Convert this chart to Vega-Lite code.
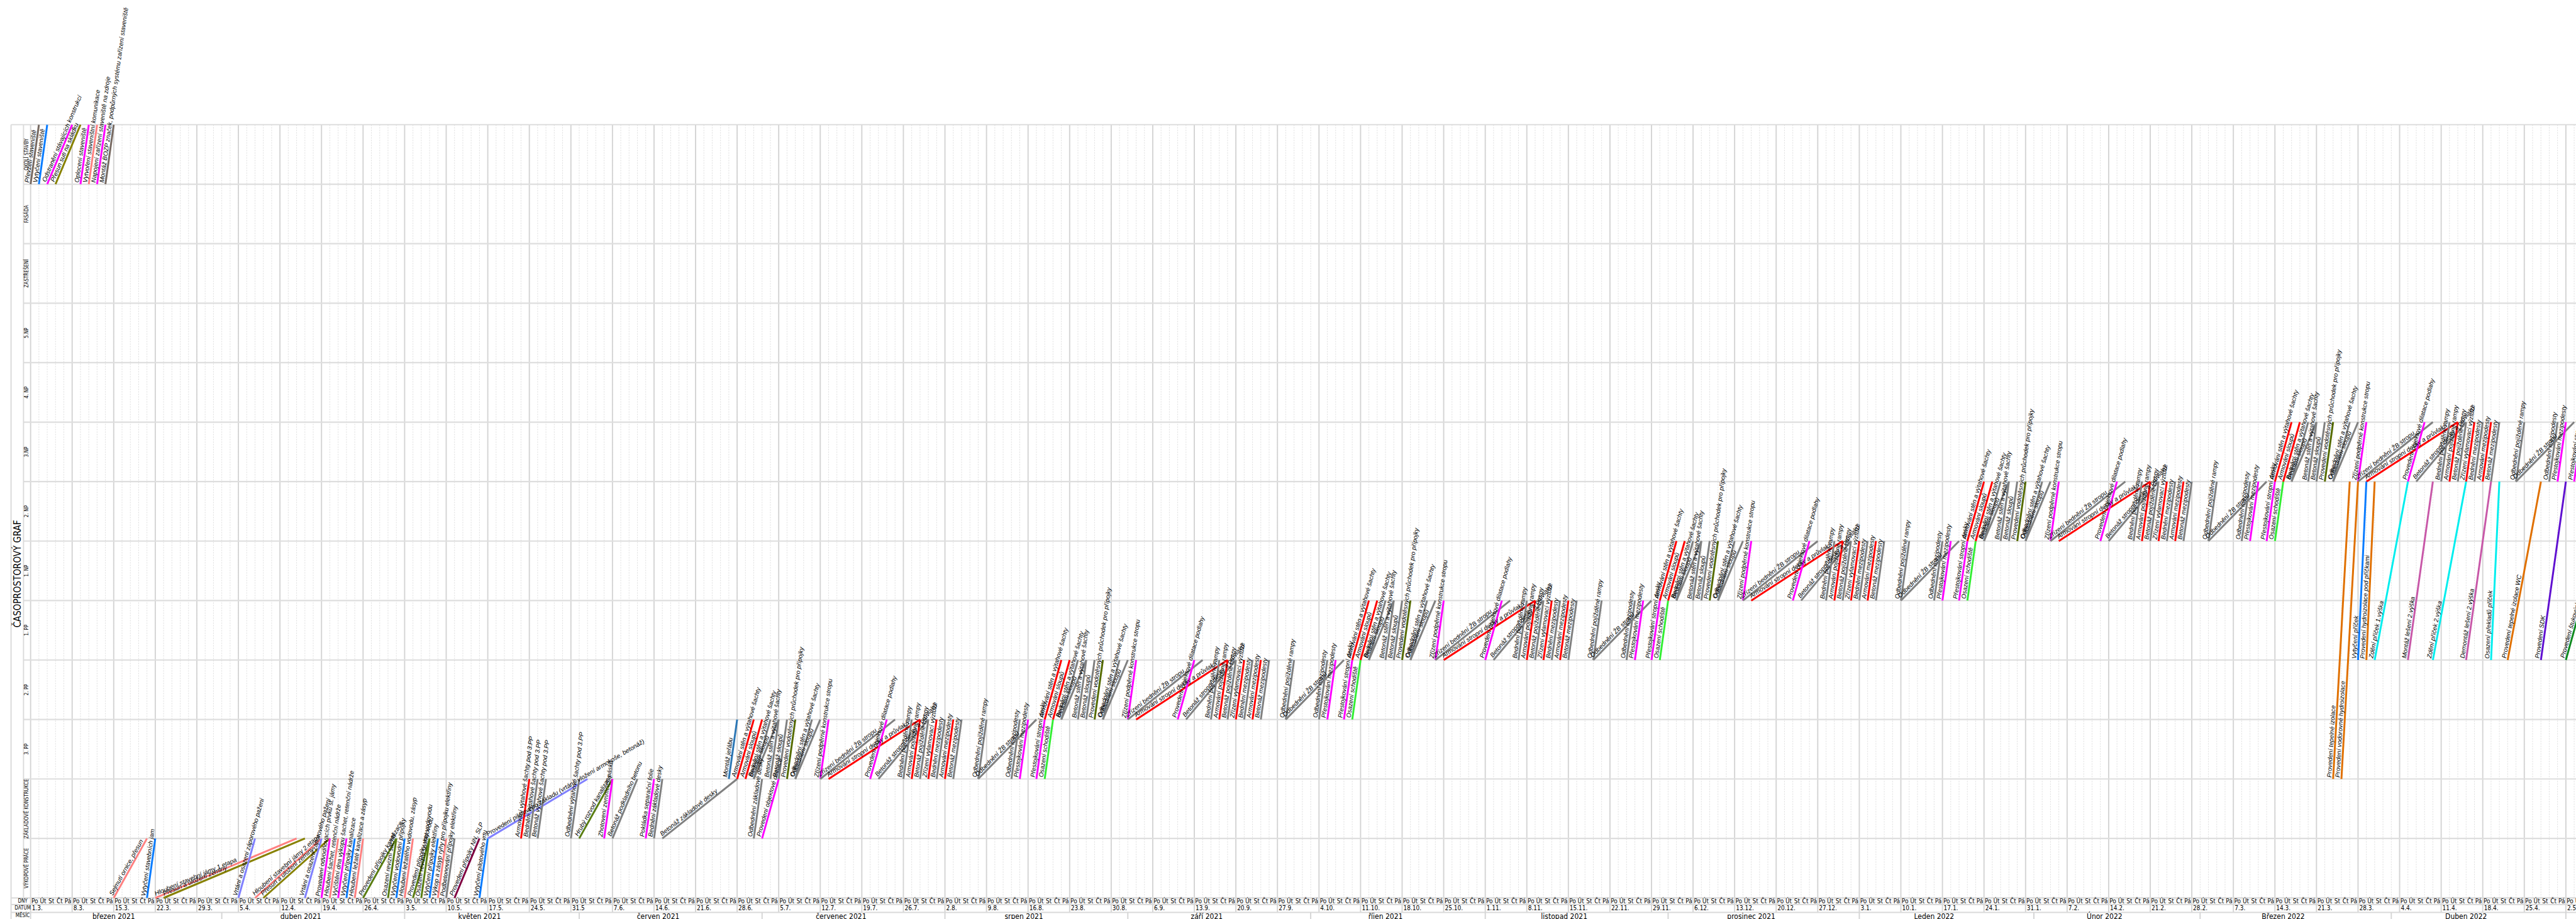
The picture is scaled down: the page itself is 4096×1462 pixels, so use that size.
{
"$schema":"https://vega.github.io/schema/vega-lite/v6.json",
"width":4096,"height":1462,"autosize":{"type":"none"},"padding":0,"background":"white",
"config":{"view":{"stroke":null}},
"datasets":{
"days":[{"d":0,"w":"Po"},{"d":1,"w":"Út"},{"d":2,"w":"St"},{"d":3,"w":"Čt"},{"d":4,"w":"Pá"},{"d":5,"w":"Po"},{"d":6,"w":"Út"},{"d":7,"w":"St"},{"d":8,"w":"Čt"},{"d":9,"w":"Pá"},{"d":10,"w":"Po"},{"d":11,"w":"Út"},{"d":12,"w":"St"},{"d":13,"w":"Čt"},{"d":14,"w":"Pá"},{"d":15,"w":"Po"},{"d":16,"w":"Út"},{"d":17,"w":"St"},{"d":18,"w":"Čt"},{"d":19,"w":"Pá"},{"d":20,"w":"Po"},{"d":21,"w":"Út"},{"d":22,"w":"St"},{"d":23,"w":"Čt"},{"d":24,"w":"Pá"},{"d":25,"w":"Po"},{"d":26,"w":"Út"},{"d":27,"w":"St"},{"d":28,"w":"Čt"},{"d":29,"w":"Pá"},{"d":30,"w":"Po"},{"d":31,"w":"Út"},{"d":32,"w":"St"},{"d":33,"w":"Čt"},{"d":34,"w":"Pá"},{"d":35,"w":"Po"},{"d":36,"w":"Út"},{"d":37,"w":"St"},{"d":38,"w":"Čt"},{"d":39,"w":"Pá"},{"d":40,"w":"Po"},{"d":41,"w":"Út"},{"d":42,"w":"St"},{"d":43,"w":"Čt"},{"d":44,"w":"Pá"},{"d":45,"w":"Po"},{"d":46,"w":"Út"},{"d":47,"w":"St"},{"d":48,"w":"Čt"},{"d":49,"w":"Pá"},{"d":50,"w":"Po"},{"d":51,"w":"Út"},{"d":52,"w":"St"},{"d":53,"w":"Čt"},{"d":54,"w":"Pá"},{"d":55,"w":"Po"},{"d":56,"w":"Út"},{"d":57,"w":"St"},{"d":58,"w":"Čt"},{"d":59,"w":"Pá"},{"d":60,"w":"Po"},{"d":61,"w":"Út"},{"d":62,"w":"St"},{"d":63,"w":"Čt"},{"d":64,"w":"Pá"},{"d":65,"w":"Po"},{"d":66,"w":"Út"},{"d":67,"w":"St"},{"d":68,"w":"Čt"},{"d":69,"w":"Pá"},{"d":70,"w":"Po"},{"d":71,"w":"Út"},{"d":72,"w":"St"},{"d":73,"w":"Čt"},{"d":74,"w":"Pá"},{"d":75,"w":"Po"},{"d":76,"w":"Út"},{"d":77,"w":"St"},{"d":78,"w":"Čt"},{"d":79,"w":"Pá"},{"d":80,"w":"Po"},{"d":81,"w":"Út"},{"d":82,"w":"St"},{"d":83,"w":"Čt"},{"d":84,"w":"Pá"},{"d":85,"w":"Po"},{"d":86,"w":"Út"},{"d":87,"w":"St"},{"d":88,"w":"Čt"},{"d":89,"w":"Pá"},{"d":90,"w":"Po"},{"d":91,"w":"Út"},{"d":92,"w":"St"},{"d":93,"w":"Čt"},{"d":94,"w":"Pá"},{"d":95,"w":"Po"},{"d":96,"w":"Út"},{"d":97,"w":"St"},{"d":98,"w":"Čt"},{"d":99,"w":"Pá"},{"d":100,"w":"Po"},{"d":101,"w":"Út"},{"d":102,"w":"St"},{"d":103,"w":"Čt"},{"d":104,"w":"Pá"},{"d":105,"w":"Po"},{"d":106,"w":"Út"},{"d":107,"w":"St"},{"d":108,"w":"Čt"},{"d":109,"w":"Pá"},{"d":110,"w":"Po"},{"d":111,"w":"Út"},{"d":112,"w":"St"},{"d":113,"w":"Čt"},{"d":114,"w":"Pá"},{"d":115,"w":"Po"},{"d":116,"w":"Út"},{"d":117,"w":"St"},{"d":118,"w":"Čt"},{"d":119,"w":"Pá"},{"d":120,"w":"Po"},{"d":121,"w":"Út"},{"d":122,"w":"St"},{"d":123,"w":"Čt"},{"d":124,"w":"Pá"},{"d":125,"w":"Po"},{"d":126,"w":"Út"},{"d":127,"w":"St"},{"d":128,"w":"Čt"},{"d":129,"w":"Pá"},{"d":130,"w":"Po"},{"d":131,"w":"Út"},{"d":132,"w":"St"},{"d":133,"w":"Čt"},{"d":134,"w":"Pá"},{"d":135,"w":"Po"},{"d":136,"w":"Út"},{"d":137,"w":"St"},{"d":138,"w":"Čt"},{"d":139,"w":"Pá"},{"d":140,"w":"Po"},{"d":141,"w":"Út"},{"d":142,"w":"St"},{"d":143,"w":"Čt"},{"d":144,"w":"Pá"},{"d":145,"w":"Po"},{"d":146,"w":"Út"},{"d":147,"w":"St"},{"d":148,"w":"Čt"},{"d":149,"w":"Pá"},{"d":150,"w":"Po"},{"d":151,"w":"Út"},{"d":152,"w":"St"},{"d":153,"w":"Čt"},{"d":154,"w":"Pá"},{"d":155,"w":"Po"},{"d":156,"w":"Út"},{"d":157,"w":"St"},{"d":158,"w":"Čt"},{"d":159,"w":"Pá"},{"d":160,"w":"Po"},{"d":161,"w":"Út"},{"d":162,"w":"St"},{"d":163,"w":"Čt"},{"d":164,"w":"Pá"},{"d":165,"w":"Po"},{"d":166,"w":"Út"},{"d":167,"w":"St"},{"d":168,"w":"Čt"},{"d":169,"w":"Pá"},{"d":170,"w":"Po"},{"d":171,"w":"Út"},{"d":172,"w":"St"},{"d":173,"w":"Čt"},{"d":174,"w":"Pá"},{"d":175,"w":"Po"},{"d":176,"w":"Út"},{"d":177,"w":"St"},{"d":178,"w":"Čt"},{"d":179,"w":"Pá"},{"d":180,"w":"Po"},{"d":181,"w":"Út"},{"d":182,"w":"St"},{"d":183,"w":"Čt"},{"d":184,"w":"Pá"},{"d":185,"w":"Po"},{"d":186,"w":"Út"},{"d":187,"w":"St"},{"d":188,"w":"Čt"},{"d":189,"w":"Pá"},{"d":190,"w":"Po"},{"d":191,"w":"Út"},{"d":192,"w":"St"},{"d":193,"w":"Čt"},{"d":194,"w":"Pá"},{"d":195,"w":"Po"},{"d":196,"w":"Út"},{"d":197,"w":"St"},{"d":198,"w":"Čt"},{"d":199,"w":"Pá"},{"d":200,"w":"Po"},{"d":201,"w":"Út"},{"d":202,"w":"St"},{"d":203,"w":"Čt"},{"d":204,"w":"Pá"},{"d":205,"w":"Po"},{"d":206,"w":"Út"},{"d":207,"w":"St"},{"d":208,"w":"Čt"},{"d":209,"w":"Pá"},{"d":210,"w":"Po"},{"d":211,"w":"Út"},{"d":212,"w":"St"},{"d":213,"w":"Čt"},{"d":214,"w":"Pá"},{"d":215,"w":"Po"},{"d":216,"w":"Út"},{"d":217,"w":"St"},{"d":218,"w":"Čt"},{"d":219,"w":"Pá"},{"d":220,"w":"Po"},{"d":221,"w":"Út"},{"d":222,"w":"St"},{"d":223,"w":"Čt"},{"d":224,"w":"Pá"},{"d":225,"w":"Po"},{"d":226,"w":"Út"},{"d":227,"w":"St"},{"d":228,"w":"Čt"},{"d":229,"w":"Pá"},{"d":230,"w":"Po"},{"d":231,"w":"Út"},{"d":232,"w":"St"},{"d":233,"w":"Čt"},{"d":234,"w":"Pá"},{"d":235,"w":"Po"},{"d":236,"w":"Út"},{"d":237,"w":"St"},{"d":238,"w":"Čt"},{"d":239,"w":"Pá"},{"d":240,"w":"Po"},{"d":241,"w":"Út"},{"d":242,"w":"St"},{"d":243,"w":"Čt"},{"d":244,"w":"Pá"},{"d":245,"w":"Po"},{"d":246,"w":"Út"},{"d":247,"w":"St"},{"d":248,"w":"Čt"},{"d":249,"w":"Pá"},{"d":250,"w":"Po"},{"d":251,"w":"Út"},{"d":252,"w":"St"},{"d":253,"w":"Čt"},{"d":254,"w":"Pá"},{"d":255,"w":"Po"},{"d":256,"w":"Út"},{"d":257,"w":"St"},{"d":258,"w":"Čt"},{"d":259,"w":"Pá"},{"d":260,"w":"Po"},{"d":261,"w":"Út"},{"d":262,"w":"St"},{"d":263,"w":"Čt"},{"d":264,"w":"Pá"},{"d":265,"w":"Po"},{"d":266,"w":"Út"},{"d":267,"w":"St"},{"d":268,"w":"Čt"},{"d":269,"w":"Pá"},{"d":270,"w":"Po"},{"d":271,"w":"Út"},{"d":272,"w":"St"},{"d":273,"w":"Čt"},{"d":274,"w":"Pá"},{"d":275,"w":"Po"},{"d":276,"w":"Út"},{"d":277,"w":"St"},{"d":278,"w":"Čt"},{"d":279,"w":"Pá"},{"d":280,"w":"Po"},{"d":281,"w":"Út"},{"d":282,"w":"St"},{"d":283,"w":"Čt"},{"d":284,"w":"Pá"},{"d":285,"w":"Po"},{"d":286,"w":"Út"},{"d":287,"w":"St"},{"d":288,"w":"Čt"},{"d":289,"w":"Pá"},{"d":290,"w":"Po"},{"d":291,"w":"Út"},{"d":292,"w":"St"},{"d":293,"w":"Čt"},{"d":294,"w":"Pá"},{"d":295,"w":"Po"},{"d":296,"w":"Út"},{"d":297,"w":"St"},{"d":298,"w":"Čt"},{"d":299,"w":"Pá"},{"d":300,"w":"Po"},{"d":301,"w":"Út"},{"d":302,"w":"St"},{"d":303,"w":"Čt"},{"d":304,"w":"Pá"},{"d":305,"w":"Po"},{"d":306,"w":"Út"}],
"weeks":[{"d":0,"t":"1.3."},{"d":5,"t":"8.3."},{"d":10,"t":"15.3."},{"d":15,"t":"22.3."},{"d":20,"t":"29.3."},{"d":25,"t":"5.4."},{"d":30,"t":"12.4."},{"d":35,"t":"19.4."},{"d":40,"t":"26.4."},{"d":45,"t":"3.5."},{"d":50,"t":"10.5."},{"d":55,"t":"17.5."},{"d":60,"t":"24.5."},{"d":65,"t":"31.5"},{"d":70,"t":"7.6."},{"d":75,"t":"14.6."},{"d":80,"t":"21.6."},{"d":85,"t":"28.6."},{"d":90,"t":"5.7."},{"d":95,"t":"12.7."},{"d":100,"t":"19.7."},{"d":105,"t":"26.7."},{"d":110,"t":"2.8."},{"d":115,"t":"9.8."},{"d":120,"t":"16.8."},{"d":125,"t":"23.8."},{"d":130,"t":"30.8."},{"d":135,"t":"6.9."},{"d":140,"t":"13.9."},{"d":145,"t":"20.9."},{"d":150,"t":"27.9."},{"d":155,"t":"4.10."},{"d":160,"t":"11.10."},{"d":165,"t":"18.10."},{"d":170,"t":"25.10."},{"d":175,"t":"1.11."},{"d":180,"t":"8.11."},{"d":185,"t":"15.11."},{"d":190,"t":"22.11."},{"d":195,"t":"29.11."},{"d":200,"t":"6.12."},{"d":205,"t":"13.12."},{"d":210,"t":"20.12."},{"d":215,"t":"27.12."},{"d":220,"t":"3.1."},{"d":225,"t":"10.1."},{"d":230,"t":"17.1."},{"d":235,"t":"24.1."},{"d":240,"t":"31.1."},{"d":245,"t":"7.2."},{"d":250,"t":"14.2."},{"d":255,"t":"21.2."},{"d":260,"t":"28.2."},{"d":265,"t":"7.3."},{"d":270,"t":"14.3."},{"d":275,"t":"21.3."},{"d":280,"t":"28.3."},{"d":285,"t":"4.4."},{"d":290,"t":"11.4."},{"d":295,"t":"18.4."},{"d":300,"t":"25.4."},{"d":305,"t":"2.5."}],
"months":[{"a":0,"b":23,"t":"březen 2021"},{"a":23,"b":45,"t":"duben 2021"},{"a":45,"b":66,"t":"květen 2021"},{"a":66,"b":88,"t":"červen 2021"},{"a":88,"b":110,"t":"červenec 2021"},{"a":110,"b":132,"t":"srpen 2021"},{"a":132,"b":154,"t":"září 2021"},{"a":154,"b":175,"t":"říjen 2021"},{"a":175,"b":197,"t":"listopad 2021"},{"a":197,"b":220,"t":"prosinec 2021"},{"a":220,"b":241,"t":"Leden 2022"},{"a":241,"b":261,"t":"Únor 2022"},{"a":261,"b":284,"t":"Březen 2022"},{"a":284,"b":305,"t":"Duben 2022"},{"a":305,"b":326,"t":"Květen 2022"}],
"rows":[{"y":0,"t":"VÝKOPOVÉ PRÁCE"},{"y":1,"t":"ZÁKLADOVÉ KONSTRUKCE"},{"y":2,"t":"3. PP"},{"y":3,"t":"2. PP"},{"y":4,"t":"1. PP"},{"y":5,"t":"1. NP"},{"y":6,"t":"2. NP"},{"y":7,"t":"3.NP"},{"y":8,"t":"4. NP"},{"y":9,"t":"5.NP"},{"y":10,"t":"ZASTŘEŠENÍ"},{"y":11,"t":"FASÁDA"},{"y":12,"t":"OKOLÍ STAVBY"}],
"acts":[
{"n":"Převzetí staveniště","a":0,"b":1,"y":12,"z":13,"k":"hnedoseda"},
{"n":"Vytyčení staveniště","a":1,"b":2,"y":12,"z":13,"k":"modra"},
{"n":"Odstranění stávajících konstrukcí","a":2,"b":5,"y":12,"z":13,"k":"purpurova"},
{"n":"Přesun suti na skládku","a":3,"b":6,"y":12,"z":13,"k":"zlutoolivova"},
{"n":"Oplocení staveniště","a":6,"b":7,"y":12,"z":13,"k":"purpurova"},
{"n":"Vytvoření staveništní komunikace","a":7,"b":8,"y":12,"z":13,"k":"lososova"},
{"n":"Napojení zařízení staveniště na zdroje","a":8,"b":9,"y":12,"z":13,"k":"purpurova"},
{"n":"Montáž BOZP značek, podpůrných systému zařízení staveniště","a":9,"b":10,"y":12,"z":13,"k":"hnedoseda"},
{"n":"Sejmutí ornice, přesun","a":10,"b":14,"y":0,"z":1,"k":"lososova"},
{"n":"Vytyčení stavebních jam","a":14,"b":15,"y":0,"z":1,"k":"modra"},
{"n":"Hloubení stavební jámy 1.etapa","a":15,"b":32,"y":0,"z":1,"k":"lososova"},
{"n":"Přesun a uložení zeminy","a":16,"b":33,"y":0,"z":1,"k":"zlutoolivova"},
{"n":"Vrtání a osazení záporového pažení","a":25,"b":27,"y":0,"z":1,"k":"levandulova"},
{"n":"Hloubení stavební jámy 2.etapa","a":27,"b":35,"y":0,"z":1,"k":"lososova"},
{"n":"Přesun a uložení zeminy","a":28,"b":36,"y":0,"z":1,"k":"zlutoolivova"},
{"n":"Vrtání a osazení záporového pažení","a":33,"b":35,"y":0,"z":1,"k":"levandulova"},
{"n":"Provedení odvodňovacích prvků st. jámy","a":35,"b":36,"y":0,"z":1,"k":"purpurova"},
{"n":"Hloubení šachet, retenční nádrže","a":36,"b":37,"y":0,"z":1,"k":"lososova"},
{"n":"Vyčištění dna výkopu šachet, retenční nádrže","a":37,"b":38,"y":0,"z":1,"k":"purpurova"},
{"n":"Vytyčení přípojky kanalizace","a":38,"b":39,"y":0,"z":1,"k":"modra"},
{"n":"Hloubení ležaté kanalizace a zásyp","a":39,"b":40,"y":0,"z":1,"k":"lososova"},
{"n":"Provedení přípojky kanalizace","a":40,"b":44,"y":0,"z":1,"k":"kanal"},
{"n":"Osazení revizní šachty","a":43,"b":44,"y":0,"z":1,"k":"kanal"},
{"n":"Vytyčení vodovodní přípojky","a":44,"b":45,"y":0,"z":1,"k":"modra"},
{"n":"Hloubení ležatého vodovodu, zásyp","a":45,"b":46,"y":0,"z":1,"k":"lososova"},
{"n":"Provedení přípojky vodovodu","a":46,"b":48,"y":0,"z":1,"k":"kanal"},
{"n":"Osazení revizní šachty vodovodu","a":47,"b":48,"y":0,"z":1,"k":"kanal"},
{"n":"Vytyčení přípojky elektřiny","a":48,"b":49,"y":0,"z":1,"k":"modra"},
{"n":"Výkop a zásyp rýhy pro přípojku elektřiny","a":49,"b":50,"y":0,"z":1,"k":"lososova"},
{"n":"Podbetonování přípojky elektřiny","a":50,"b":51,"y":0,"z":1,"k":"seda"},
{"n":"Provedení přípojky NN, SLP","a":51,"b":54,"y":0,"z":1,"k":"bordova"},
{"n":"Vytyčení pilotového vrtu","a":54,"b":55,"y":0,"z":1,"k":"modra"},
{"n":"Provedení pilotového základu (vrtání, vložení armokoše, betonáž)","a":55,"b":67,"y":1,"z":2,"k":"levandulova"},
{"n":"Armování výtahové šachty pod 3.PP","a":59,"b":60,"y":1,"z":2,"k":"cervena"},
{"n":"Bednění výtahové šachty pod 3.PP","a":60,"b":61,"y":1,"z":2,"k":"seda"},
{"n":"Betonáž výtahové šachty pod 3.PP","a":61,"b":62,"y":1,"z":2,"k":"seda"},
{"n":"Odbednění výtahové šachty pod 3.PP","a":65,"b":66,"y":1,"z":2,"k":"seda"},
{"n":"Hrubý rozvod kanalizace","a":66,"b":70,"y":1,"z":2,"k":"kanal"},
{"n":"Zhotovení zemnících pásků","a":69,"b":70,"y":1,"z":2,"k":"purpurova"},
{"n":"Betonáž podkladního betonu","a":70,"b":73,"y":1,"z":2,"k":"seda"},
{"n":"Pokládka separační folie","a":74,"b":75,"y":1,"z":2,"k":"purpurova"},
{"n":"Bednění základové desky","a":75,"b":76,"y":1,"z":2,"k":"seda"},
{"n":"Betonáž základové desky","a":76,"b":85,"y":1,"z":2,"k":"seda"},
{"n":"Odbednění základové desky","a":87,"b":88,"y":1,"z":2,"k":"seda"},
{"n":"Provedení objektové dilatace","a":88,"b":90,"y":1,"z":2,"k":"purpurova"},
{"n":"Montáž jeřábu","a":84,"b":85,"y":2,"z":3,"k":"jerab"},
{"n":"Armování stěn a výtahové šachty","a":85,"b":87,"y":2,"z":3,"k":"cervena"},
{"n":"Armování sloupů","a":86,"b":88,"y":2,"z":3,"k":"cervena"},
{"n":"Bednění stěn a výtahové šachty","a":87,"b":89,"y":2,"z":3,"k":"seda"},
{"n":"Bednění sloupů","a":87,"b":90,"y":2,"z":3,"k":"seda"},
{"n":"Betonáž stěn a výtahové šachty","a":89,"b":90,"y":2,"z":3,"k":"seda"},
{"n":"Betonáž sloupů","a":90,"b":91,"y":2,"z":3,"k":"seda"},
{"n":"Provedení vodotěsných průchodek pro přípojky","a":91,"b":92,"y":2,"z":3,"k":"olivova"},
{"n":"Odbednění stěn a výtahové šachty","a":92,"b":94,"y":2,"z":3,"k":"seda"},
{"n":"Odbednění sloupů","a":92,"b":95,"y":2,"z":3,"k":"seda"},
{"n":"Zřízení podpěrné konstrukce stropu","a":95,"b":96,"y":2,"z":3,"k":"purpurova"},
{"n":"Zřízení bednění ŽB stropu","a":95,"b":104,"y":2,"z":3,"k":"seda"},
{"n":"Armování stropní desky a průvlaků","a":96,"b":107,"y":2,"z":3,"k":"cervena"},
{"n":"Provedení objektové dilatace podlahy","a":101,"b":103,"y":2,"z":3,"k":"purpurova"},
{"n":"Betonáž stropní desky a průvlaků","a":102,"b":108,"y":2,"z":3,"k":"seda"},
{"n":"Bednění pojížděné rampy","a":105,"b":106,"y":2,"z":3,"k":"seda"},
{"n":"Armování pojížděné rampy","a":106,"b":107,"y":2,"z":3,"k":"cervena"},
{"n":"Betonáž pojížděné rampy","a":107,"b":108,"y":2,"z":3,"k":"seda"},
{"n":"Zřízení vylamovací výztuže","a":108,"b":109,"y":2,"z":3,"k":"cervena"},
{"n":"Bednění mezipodesty","a":109,"b":110,"y":2,"z":3,"k":"seda"},
{"n":"Armování mezipodesty","a":110,"b":111,"y":2,"z":3,"k":"cervena"},
{"n":"Betonáž mezipodesty","a":111,"b":112,"y":2,"z":3,"k":"seda"},
{"n":"Odbednění pojížděné rampy","a":114,"b":115,"y":2,"z":3,"k":"seda"},
{"n":"Odbednění ŽB stropu","a":114,"b":121,"y":2,"z":3,"k":"seda"},
{"n":"Odbednění mezipodesty","a":118,"b":119,"y":2,"z":3,"k":"seda"},
{"n":"Přestojkování mezipodesty","a":119,"b":120,"y":2,"z":3,"k":"purpurova"},
{"n":"Přestojkování stropní desky","a":121,"b":122,"y":2,"z":3,"k":"purpurova"},
{"n":"Osazení schodiště","a":122,"b":123,"y":2,"z":3,"k":"zelena"},
{"n":"Armování stěn a výtahové šachty","a":122,"b":124,"y":3,"z":4,"k":"cervena"},
{"n":"Armování sloupů","a":123,"b":125,"y":3,"z":4,"k":"cervena"},
{"n":"Bednění stěn a výtahové šachty","a":124,"b":126,"y":3,"z":4,"k":"seda"},
{"n":"Bednění sloupů","a":124,"b":127,"y":3,"z":4,"k":"seda"},
{"n":"Betonáž stěn a výtahové šachty","a":126,"b":127,"y":3,"z":4,"k":"seda"},
{"n":"Betonáž sloupů","a":127,"b":128,"y":3,"z":4,"k":"seda"},
{"n":"Provedení vodotěsných průchodek pro přípojky","a":128,"b":129,"y":3,"z":4,"k":"olivova"},
{"n":"Odbednění stěn a výtahové šachty","a":129,"b":131,"y":3,"z":4,"k":"seda"},
{"n":"Odbednění sloupů","a":129,"b":132,"y":3,"z":4,"k":"seda"},
{"n":"Zřízení podpěrné konstrukce stropu","a":132,"b":133,"y":3,"z":4,"k":"purpurova"},
{"n":"Zřízení bednění ŽB stropu","a":132,"b":141,"y":3,"z":4,"k":"seda"},
{"n":"Armování stropní desky a průvlaků","a":133,"b":144,"y":3,"z":4,"k":"cervena"},
{"n":"Provedení objektové dilatace podlahy","a":138,"b":140,"y":3,"z":4,"k":"purpurova"},
{"n":"Betonáž stropní desky a průvlaků","a":139,"b":145,"y":3,"z":4,"k":"seda"},
{"n":"Bednění pojížděné rampy","a":142,"b":143,"y":3,"z":4,"k":"seda"},
{"n":"Armování pojížděné rampy","a":143,"b":144,"y":3,"z":4,"k":"cervena"},
{"n":"Betonáž pojížděné rampy","a":144,"b":145,"y":3,"z":4,"k":"seda"},
{"n":"Zřízení vylamovací výztuže","a":145,"b":146,"y":3,"z":4,"k":"cervena"},
{"n":"Bednění mezipodesty","a":146,"b":147,"y":3,"z":4,"k":"seda"},
{"n":"Armování mezipodesty","a":147,"b":148,"y":3,"z":4,"k":"cervena"},
{"n":"Betonáž mezipodesty","a":148,"b":149,"y":3,"z":4,"k":"seda"},
{"n":"Odbednění pojížděné rampy","a":151,"b":152,"y":3,"z":4,"k":"seda"},
{"n":"Odbednění ŽB stropu","a":151,"b":158,"y":3,"z":4,"k":"seda"},
{"n":"Odbednění mezipodesty","a":155,"b":156,"y":3,"z":4,"k":"seda"},
{"n":"Přestojkování mezipodesty","a":156,"b":157,"y":3,"z":4,"k":"purpurova"},
{"n":"Přestojkování stropní desky","a":158,"b":159,"y":3,"z":4,"k":"purpurova"},
{"n":"Osazení schodiště","a":159,"b":160,"y":3,"z":4,"k":"zelena"},
{"n":"Armování stěn a výtahové šachty","a":159,"b":161,"y":4,"z":5,"k":"cervena"},
{"n":"Armování sloupů","a":160,"b":162,"y":4,"z":5,"k":"cervena"},
{"n":"Bednění stěn a výtahové šachty","a":161,"b":163,"y":4,"z":5,"k":"seda"},
{"n":"Bednění sloupů","a":161,"b":164,"y":4,"z":5,"k":"seda"},
{"n":"Betonáž stěn a výtahové šachty","a":163,"b":164,"y":4,"z":5,"k":"seda"},
{"n":"Betonáž sloupů","a":164,"b":165,"y":4,"z":5,"k":"seda"},
{"n":"Provedení vodotěsných průchodek pro přípojky","a":165,"b":166,"y":4,"z":5,"k":"olivova"},
{"n":"Odbednění stěn a výtahové šachty","a":166,"b":168,"y":4,"z":5,"k":"seda"},
{"n":"Odbednění sloupů","a":166,"b":169,"y":4,"z":5,"k":"seda"},
{"n":"Zřízení podpěrné konstrukce stropu","a":169,"b":170,"y":4,"z":5,"k":"purpurova"},
{"n":"Zřízení bednění ŽB stropu","a":169,"b":178,"y":4,"z":5,"k":"seda"},
{"n":"Armování stropní desky a průvlaků","a":170,"b":181,"y":4,"z":5,"k":"cervena"},
{"n":"Provedení objektové dilatace podlahy","a":175,"b":177,"y":4,"z":5,"k":"purpurova"},
{"n":"Betonáž stropní desky a průvlaků","a":176,"b":182,"y":4,"z":5,"k":"seda"},
{"n":"Bednění pojížděné rampy","a":179,"b":180,"y":4,"z":5,"k":"seda"},
{"n":"Armování pojížděné rampy","a":180,"b":181,"y":4,"z":5,"k":"cervena"},
{"n":"Betonáž pojížděné rampy","a":181,"b":182,"y":4,"z":5,"k":"seda"},
{"n":"Zřízení vylamovací výztuže","a":182,"b":183,"y":4,"z":5,"k":"cervena"},
{"n":"Bednění mezipodesty","a":183,"b":184,"y":4,"z":5,"k":"seda"},
{"n":"Armování mezipodesty","a":184,"b":185,"y":4,"z":5,"k":"cervena"},
{"n":"Betonáž mezipodesty","a":185,"b":186,"y":4,"z":5,"k":"seda"},
{"n":"Odbednění pojížděné rampy","a":188,"b":189,"y":4,"z":5,"k":"seda"},
{"n":"Odbednění ŽB stropu","a":188,"b":195,"y":4,"z":5,"k":"seda"},
{"n":"Odbednění mezipodesty","a":192,"b":193,"y":4,"z":5,"k":"seda"},
{"n":"Přestojkování mezipodesty","a":193,"b":194,"y":4,"z":5,"k":"purpurova"},
{"n":"Přestojkování stropní desky","a":195,"b":196,"y":4,"z":5,"k":"purpurova"},
{"n":"Osazení schodiště","a":196,"b":197,"y":4,"z":5,"k":"zelena"},
{"n":"Armování stěn a výtahové šachty","a":196,"b":198,"y":5,"z":6,"k":"cervena"},
{"n":"Armování sloupů","a":197,"b":199,"y":5,"z":6,"k":"cervena"},
{"n":"Bednění stěn a výtahové šachty","a":198,"b":200,"y":5,"z":6,"k":"seda"},
{"n":"Bednění sloupů","a":198,"b":201,"y":5,"z":6,"k":"seda"},
{"n":"Betonáž stěn a výtahové šachty","a":200,"b":201,"y":5,"z":6,"k":"seda"},
{"n":"Betonáž sloupů","a":201,"b":202,"y":5,"z":6,"k":"seda"},
{"n":"Provedení vodotěsných průchodek pro přípojky","a":202,"b":203,"y":5,"z":6,"k":"olivova"},
{"n":"Odbednění stěn a výtahové šachty","a":203,"b":205,"y":5,"z":6,"k":"seda"},
{"n":"Odbednění sloupů","a":203,"b":206,"y":5,"z":6,"k":"seda"},
{"n":"Zřízení podpěrné konstrukce stropu","a":206,"b":207,"y":5,"z":6,"k":"purpurova"},
{"n":"Zřízení bednění ŽB stropu","a":206,"b":215,"y":5,"z":6,"k":"seda"},
{"n":"Armování stropní desky a průvlaků","a":207,"b":218,"y":5,"z":6,"k":"cervena"},
{"n":"Provedení objektové dilatace podlahy","a":212,"b":214,"y":5,"z":6,"k":"purpurova"},
{"n":"Betonáž stropní desky a průvlaků","a":213,"b":219,"y":5,"z":6,"k":"seda"},
{"n":"Bednění pojížděné rampy","a":216,"b":217,"y":5,"z":6,"k":"seda"},
{"n":"Armování pojížděné rampy","a":217,"b":218,"y":5,"z":6,"k":"cervena"},
{"n":"Betonáž pojížděné rampy","a":218,"b":219,"y":5,"z":6,"k":"seda"},
{"n":"Zřízení vylamovací výztuže","a":219,"b":220,"y":5,"z":6,"k":"cervena"},
{"n":"Bednění mezipodesty","a":220,"b":221,"y":5,"z":6,"k":"seda"},
{"n":"Armování mezipodesty","a":221,"b":222,"y":5,"z":6,"k":"cervena"},
{"n":"Betonáž mezipodesty","a":222,"b":223,"y":5,"z":6,"k":"seda"},
{"n":"Odbednění pojížděné rampy","a":225,"b":226,"y":5,"z":6,"k":"seda"},
{"n":"Odbednění ŽB stropu","a":225,"b":232,"y":5,"z":6,"k":"seda"},
{"n":"Odbednění mezipodesty","a":229,"b":230,"y":5,"z":6,"k":"seda"},
{"n":"Přestojkování mezipodesty","a":230,"b":231,"y":5,"z":6,"k":"purpurova"},
{"n":"Přestojkování stropní desky","a":232,"b":233,"y":5,"z":6,"k":"purpurova"},
{"n":"Osazení schodiště","a":233,"b":234,"y":5,"z":6,"k":"zelena"},
{"n":"Armování stěn a výtahové šachty","a":233,"b":235,"y":6,"z":7,"k":"cervena"},
{"n":"Armování sloupů","a":234,"b":236,"y":6,"z":7,"k":"cervena"},
{"n":"Bednění stěn a výtahové šachty","a":235,"b":237,"y":6,"z":7,"k":"seda"},
{"n":"Bednění sloupů","a":235,"b":238,"y":6,"z":7,"k":"seda"},
{"n":"Betonáž stěn a výtahové šachty","a":237,"b":238,"y":6,"z":7,"k":"seda"},
{"n":"Betonáž sloupů","a":238,"b":239,"y":6,"z":7,"k":"seda"},
{"n":"Provedení vodotěsných průchodek pro přípojky","a":239,"b":240,"y":6,"z":7,"k":"olivova"},
{"n":"Odbednění stěn a výtahové šachty","a":240,"b":242,"y":6,"z":7,"k":"seda"},
{"n":"Odbednění sloupů","a":240,"b":243,"y":6,"z":7,"k":"seda"},
{"n":"Zřízení podpěrné konstrukce stropu","a":243,"b":244,"y":6,"z":7,"k":"purpurova"},
{"n":"Zřízení bednění ŽB stropu","a":243,"b":252,"y":6,"z":7,"k":"seda"},
{"n":"Armování stropní desky a průvlaků","a":244,"b":255,"y":6,"z":7,"k":"cervena"},
{"n":"Provedení objektové dilatace podlahy","a":249,"b":251,"y":6,"z":7,"k":"purpurova"},
{"n":"Betonáž stropní desky a průvlaků","a":250,"b":256,"y":6,"z":7,"k":"seda"},
{"n":"Bednění pojížděné rampy","a":253,"b":254,"y":6,"z":7,"k":"seda"},
{"n":"Armování pojížděné rampy","a":254,"b":255,"y":6,"z":7,"k":"cervena"},
{"n":"Betonáž pojížděné rampy","a":255,"b":256,"y":6,"z":7,"k":"seda"},
{"n":"Zřízení vylamovací výztuže","a":256,"b":257,"y":6,"z":7,"k":"cervena"},
{"n":"Bednění mezipodesty","a":257,"b":258,"y":6,"z":7,"k":"seda"},
{"n":"Armování mezipodesty","a":258,"b":259,"y":6,"z":7,"k":"cervena"},
{"n":"Betonáž mezipodesty","a":259,"b":260,"y":6,"z":7,"k":"seda"},
{"n":"Odbednění pojížděné rampy","a":262,"b":263,"y":6,"z":7,"k":"seda"},
{"n":"Odbednění ŽB stropu","a":262,"b":269,"y":6,"z":7,"k":"seda"},
{"n":"Odbednění mezipodesty","a":266,"b":267,"y":6,"z":7,"k":"seda"},
{"n":"Přestojkování mezipodesty","a":267,"b":268,"y":6,"z":7,"k":"purpurova"},
{"n":"Přestojkování stropní desky","a":269,"b":270,"y":6,"z":7,"k":"purpurova"},
{"n":"Osazení schodiště","a":270,"b":271,"y":6,"z":7,"k":"zelena"},
{"n":"Armování stěn a výtahové šachty","a":270,"b":272,"y":7,"z":8,"k":"cervena"},
{"n":"Armování sloupů","a":271,"b":273,"y":7,"z":8,"k":"cervena"},
{"n":"Bednění stěn a výtahové šachty","a":272,"b":274,"y":7,"z":8,"k":"seda"},
{"n":"Bednění sloupů","a":272,"b":275,"y":7,"z":8,"k":"seda"},
{"n":"Betonáž stěn a výtahové šachty","a":274,"b":275,"y":7,"z":8,"k":"seda"},
{"n":"Betonáž sloupů","a":275,"b":276,"y":7,"z":8,"k":"seda"},
{"n":"Provedení vodotěsných průchodek pro přípojky","a":276,"b":277,"y":7,"z":8,"k":"olivova"},
{"n":"Odbednění stěn a výtahové šachty","a":277,"b":279,"y":7,"z":8,"k":"seda"},
{"n":"Odbednění sloupů","a":277,"b":280,"y":7,"z":8,"k":"seda"},
{"n":"Zřízení podpěrné konstrukce stropu","a":280,"b":281,"y":7,"z":8,"k":"purpurova"},
{"n":"Zřízení bednění ŽB stropu","a":280,"b":289,"y":7,"z":8,"k":"seda"},
{"n":"Armování stropní desky a průvlaků","a":281,"b":292,"y":7,"z":8,"k":"cervena"},
{"n":"Provedení objektové dilatace podlahy","a":286,"b":288,"y":7,"z":8,"k":"purpurova"},
{"n":"Betonáž stropní desky a průvlaků","a":287,"b":293,"y":7,"z":8,"k":"seda"},
{"n":"Bednění pojížděné rampy","a":290,"b":291,"y":7,"z":8,"k":"seda"},
{"n":"Armování pojížděné rampy","a":291,"b":292,"y":7,"z":8,"k":"cervena"},
{"n":"Betonáž pojížděné rampy","a":292,"b":293,"y":7,"z":8,"k":"seda"},
{"n":"Zřízení vylamovací výztuže","a":293,"b":294,"y":7,"z":8,"k":"cervena"},
{"n":"Bednění mezipodesty","a":294,"b":295,"y":7,"z":8,"k":"seda"},
{"n":"Armování mezipodesty","a":295,"b":296,"y":7,"z":8,"k":"cervena"},
{"n":"Betonáž mezipodesty","a":296,"b":297,"y":7,"z":8,"k":"seda"},
{"n":"Odbednění pojížděné rampy","a":299,"b":300,"y":7,"z":8,"k":"seda"},
{"n":"Odbednění ŽB stropu","a":299,"b":306,"y":7,"z":8,"k":"seda"},
{"n":"Odbednění mezipodesty","a":303,"b":304,"y":7,"z":8,"k":"seda"},
{"n":"Přestojkování mezipodesty","a":304,"b":305,"y":7,"z":8,"k":"purpurova"},
{"n":"Přestojkování stropní desky","a":306,"b":307,"y":7,"z":8,"k":"purpurova"},
{"n":"Osazení schodiště","a":307,"b":308,"y":7,"z":8,"k":"zelena"},
{"n":"Provedení tepelné izolace","a":277,"b":279,"y":2,"z":7,"k":"oranzova"},
{"n":"Provedení vodorovné hydroizolace","a":278,"b":280,"y":2,"z":7,"k":"oranzova"},
{"n":"Vytyčení příček","a":280,"b":281,"y":4,"z":7,"k":"modra"},
{"n":"Provedení hydroizolace pod příčkami","a":281,"b":282,"y":4,"z":7,"k":"oranzova"},
{"n":"Zdění příček 1.výška","a":282,"b":286,"y":4,"z":7,"k":"azurova"},
{"n":"Montáž lešení 2.výška","a":286,"b":289,"y":4,"z":7,"k":"ruzova"},
{"n":"Zdění příček 2.výška","a":289,"b":293,"y":4,"z":7,"k":"azurova"},
{"n":"Demontáž lešení 2.výška","a":293,"b":296,"y":4,"z":7,"k":"ruzova"},
{"n":"Osazení překladů příček","a":296,"b":297,"y":4,"z":7,"k":"azurova"},
{"n":"Provedení tepelné izolace WC","a":298,"b":302,"y":4,"z":7,"k":"oranzova"},
{"n":"Provedení SDK","a":302,"b":305,"y":4,"z":7,"k":"fialova"},
{"n":"Provedení štukových omítek","a":305,"b":311,"y":4,"z":7,"k":"tmavezelena"}
]},
"layer":[
{"data":{"name":"days"},"mark":{"type":"rule","stroke":"#cfcfcf","strokeWidth":0.7,"strokeDash":[2,2]},
 "encoding":{"x":{"field":"d","type":"quantitative","scale":{"domain":[-3.68,306.22],"nice":false,"zero":false},"axis":null},
  "y":{"datum":13,"type":"quantitative","scale":{"domain":[-0.354,15.097],"nice":false,"zero":false},"axis":null},"y2":{"datum":-0.111}}},
{"data":{"name":"weeks"},"mark":{"type":"rule","stroke":"#d4d4d4","strokeWidth":1.9},
 "encoding":{"x":{"field":"d","type":"quantitative"},"y":{"datum":13,"type":"quantitative"},"y2":{"datum":-0.243}}},
{"data":{"name":"rows"},"mark":{"type":"rule","stroke":"#dedede","strokeWidth":2.2},
 "encoding":{"y":{"field":"y","type":"quantitative"},"x":{"datum":-0.85,"type":"quantitative"},"x2":{"datum":306.22}}},
{"data":{"values":[{"y":0},{"y":13},{"y":-0.111},{"y":-0.243}]},"mark":{"type":"rule","stroke":"#dadada","strokeWidth":1.9},
 "encoding":{"y":{"field":"y","type":"quantitative"},"x":{"datum":-2.35,"type":"quantitative"},"x2":{"datum":306.22}}},
{"data":{"values":[{"x":-2.35,"y":-0.354,"z":13},{"x":-0.85,"y":0,"z":13}]},"mark":{"type":"rule","stroke":"#dadada","strokeWidth":1.9},
 "encoding":{"x":{"field":"x","type":"quantitative"},"y":{"field":"y","type":"quantitative"},"y2":{"field":"z"}}},
{"data":{"name":"months"},"mark":{"type":"rule","stroke":"#d4d4d4","strokeWidth":1.9},
 "encoding":{"x":{"field":"a","type":"quantitative"},"y":{"datum":-0.243,"type":"quantitative"},"y2":{"datum":-0.354}}},
{"data":{"name":"acts"},"mark":{"type":"rule","strokeWidth":3,"strokeCap":"butt","clip":true},
 "encoding":{"x":{"field":"a","type":"quantitative"},"x2":{"field":"b"},"y":{"field":"y","type":"quantitative"},"y2":{"field":"z"},
  "color":{"field":"k","type":"nominal","legend":null,
   "scale":{"domain":["seda","cervena","purpurova","olivova","zelena","modra","jerab","lososova","zlutoolivova","levandulova","hnedoseda","bordova","kanal","oranzova","azurova","ruzova","fialova","tmavezelena"],
    "range":["#808080","#ff0000","#ff00ff","#566b00","#33ee33","#0a7cff","#2c77b5","#ff8080","#878100","#8080ff","#786a62","#800040","#5a7d12","#e07000","#00eeee","#c858a8","#6010d0","#108a20"]}}}},
{"data":{"name":"acts"},"transform":[{"calculate":"-atan2((datum.z-datum.y)*94.62,(datum.b-datum.a)*13.218)*180/PI","as":"ang"}],
 "mark":{"type":"text","align":"left","baseline":"bottom","dx":2,"dy":-1,"font":"Liberation Sans","fontStyle":"italic","fontSize":10,"fill":"#000000","clip":true},
 "encoding":{"x":{"field":"a","type":"quantitative"},"y":{"field":"y","type":"quantitative"},"text":{"field":"n"},"angle":{"field":"ang","type":"quantitative","scale":null}}},
{"data":{"name":"rows"},"transform":[{"calculate":"datum.y+0.5","as":"m"}],
 "mark":{"type":"text","angle":270,"align":"center","baseline":"middle","font":"Liberation Sans Narrow, DejaVu Sans Condensed, sans-serif","fontSize":8,"fill":"#000000"},
 "encoding":{"x":{"datum":-0.42,"type":"quantitative"},"y":{"field":"m","type":"quantitative"},"text":{"field":"t"}}},
{"data":{"values":[{"t":"ČASOPROSTOROVÝ GRAF"}]},
 "mark":{"type":"text","angle":270,"align":"center","baseline":"middle","font":"Liberation Sans Narrow, DejaVu Sans Condensed, sans-serif","fontSize":15,"fill":"#000000"},
 "encoding":{"x":{"datum":-1.55,"type":"quantitative"},"y":{"datum":5.45,"type":"quantitative"},"text":{"field":"t"}}},
{"data":{"name":"days"},"transform":[{"calculate":"datum.d+0.5","as":"m"}],
 "mark":{"type":"text","align":"center","baseline":"middle","font":"Liberation Sans Narrow, DejaVu Sans Condensed, sans-serif","fontSize":10,"fill":"#000000","clip":true},
 "encoding":{"x":{"field":"m","type":"quantitative"},"y":{"datum":-0.056,"type":"quantitative"},"text":{"field":"w"}}},
{"data":{"name":"weeks"},
 "mark":{"type":"text","align":"left","baseline":"middle","dx":2,"font":"Liberation Sans Narrow, DejaVu Sans Condensed, sans-serif","fontSize":10,"fill":"#000000","clip":true},
 "encoding":{"x":{"field":"d","type":"quantitative"},"y":{"datum":-0.177,"type":"quantitative"},"text":{"field":"t"}}},
{"data":{"name":"months"},"transform":[{"calculate":"(datum.a+datum.b)/2-1.5","as":"m"}],
 "mark":{"type":"text","align":"center","baseline":"top","font":"Liberation Sans Narrow, DejaVu Sans Condensed, sans-serif","fontSize":12,"fill":"#000000","clip":true},
 "encoding":{"x":{"field":"m","type":"quantitative"},"y":{"datum":-0.262,"type":"quantitative"},"text":{"field":"t"}}},
{"data":{"values":[{"t":"DNY","y":-0.056},{"t":"DATUM","y":-0.177},{"t":"MĚSÍC","y":-0.305}]},
 "mark":{"type":"text","align":"center","baseline":"middle","font":"Liberation Sans Narrow, DejaVu Sans Condensed, sans-serif","fontSize":8,"fill":"#000000"},
 "encoding":{"x":{"datum":-0.95,"type":"quantitative"},"y":{"field":"y","type":"quantitative"},"text":{"field":"t"}}}
]
}
